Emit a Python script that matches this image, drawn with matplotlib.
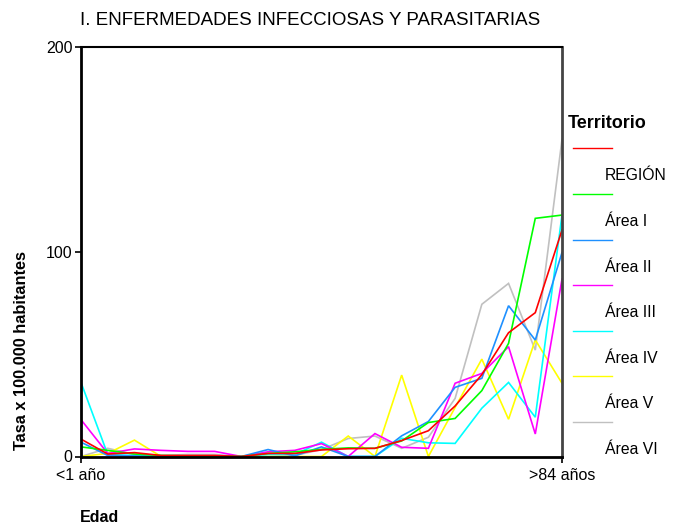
import matplotlib
matplotlib.use("Agg")
import matplotlib.pyplot as plt
from matplotlib.lines import Line2D

plt.rcParams['font.family'] = ['Liberation Sans', 'DejaVu Sans']

age_groups = ["<1 año", "1-4", "5-9", "10-14", "15-19", "20-24", "25-29", "30-34",
              "35-39", "40-44", "45-49", "50-54", "55-59", "60-64", "65-69", "70-74",
              "75-79", "80-84", ">84 años"]
series_names = ["REGIÓN", "Área I", "Área II", "Área III", "Área IV", "Área V", "Área VI"]
series_colors = ["#FF0000", "#00FF00", "#1E90FF", "#FF00FF", "#00FFFF", "#FFFF00", "#C0C0C0"]

region   = [8.5, 1.2, 1.9, 0.5, 0.5, 0.5, 0, 1.5, 1.5, 3.2, 3.8, 4.0, 7.8, 12.6, 24.7, 40.0, 60.5, 70.3, 110.7]
area_i   = [4.7, 3.0, 1.2, 0.5, 0.3, 0.3, 0, 1.5, 2.3, 3.5, 4.2, 4.0, 7.6, 16.6, 18.6, 32.2, 55.3, 116.4, 118.0]
area_ii  = [7.0, 0.5, 0.3, 0, 0, 0, 0, 3.4, 0.3, 4.7, 0, 0, 10.1, 17.1, 33.8, 38.2, 73.7, 56.9, 99.7]
area_iii = [18.0, 1.5, 3.7, 3.0, 2.5, 2.5, 0, 2.3, 3.0, 6.3, 0, 11.2, 4.5, 4.0, 35.8, 40.6, 53.7, 11.0, 86.7]
area_iv  = [36.2, 1.0, 0.5, 0, 0, 0, 0, 1.0, 1.0, 7.0, 0, 0, 8.9, 6.7, 6.4, 23.6, 36.2, 19.2, 118.0]
area_v   = [0, 1.5, 8.0, 0, 0, 0, 0, 0, 0, 0, 10.0, 0, 39.8, 0, 24.0, 47.6, 18.2, 57.0, 35.8]
area_vi  = [0, 4.0, 1.0, 0.5, 1.0, 1.0, 0, 1.0, 0.5, 3.4, 8.8, 10.0, 4.0, 9.4, 28.4, 74.4, 84.6, 52.0, 155.0]

all_series = [region, area_i, area_ii, area_iii, area_iv, area_v, area_vi]
y_ticks = [0, 100, 200]

W, H = 685, 528
fig = plt.figure(figsize=(W / 100, H / 100), dpi=100)
ax = fig.add_axes([81 / W, 1 - 456.5 / H, (562 - 81) / W, (456.5 - 47.3) / H])

x = list(range(len(age_groups)))
# draw in reverse so REGIÓN is on top
for vals, col in reversed(list(zip(all_series, series_colors))):
    ax.plot(x, vals, color=col, lw=1.2, solid_joinstyle='miter')

ax.set_xlim(0, len(age_groups) - 1)
ax.set_ylim(0, 200)
ax.set_yticks(y_ticks)
ax.set_yticklabels([str(v) for v in y_ticks], fontsize=11.5)
ax.set_xticks([0, len(age_groups) - 1])
ax.set_xticklabels([age_groups[0], age_groups[-1]], fontsize=11.5)
ax.tick_params(axis='both', direction='out', length=4, width=1.2, color='black')
ax.tick_params(axis='y', pad=2)
ax.tick_params(axis='x', pad=4)

for side in ['left', 'bottom']:
    ax.spines[side].set_linewidth(2)
    ax.spines[side].set_color('black')
ax.spines['top'].set_linewidth(1.5)
ax.spines['top'].set_color('black')
ax.spines['right'].set_linewidth(2)
ax.spines['right'].set_color('#444444')

fig.text(80 / W, 1 - 25 / H, "I. ENFERMEDADES INFECCIOSAS Y PARASITARIAS",
         fontsize=13.5, ha='left', va='baseline')
fig.text(22 / W, 1 - 351 / H, "Tasa x 100.000 habitantes", rotation=90,
         fontsize=11.8, fontweight='bold', ha='center', va='center')
fig.text(80 / W, 1 - 517 / H, "Edad", fontsize=11.5, fontweight='bold',
         ha='left', va='center')

# legend (manual layout to mimic original)
fig.text(568 / W, 1 - 124 / H, "Territorio", fontsize=13, fontweight='bold',
         ha='left', va='center')
line_y0, text_y0, step = 148.3, 176.0, 45.6
for k, (name, col) in enumerate(zip(series_names, series_colors)):
    ly = line_y0 + k * step
    ty = text_y0 + k * step
    fig.add_artist(Line2D([573 / W, 612 / W], [1 - ly / H, 1 - ly / H],
                          color=col, lw=1.0, transform=fig.transFigure))
    fig.text(605 / W, 1 - ty / H, name, fontsize=11.3, ha='left', va='center')

fig.savefig("out.png", dpi=100)
